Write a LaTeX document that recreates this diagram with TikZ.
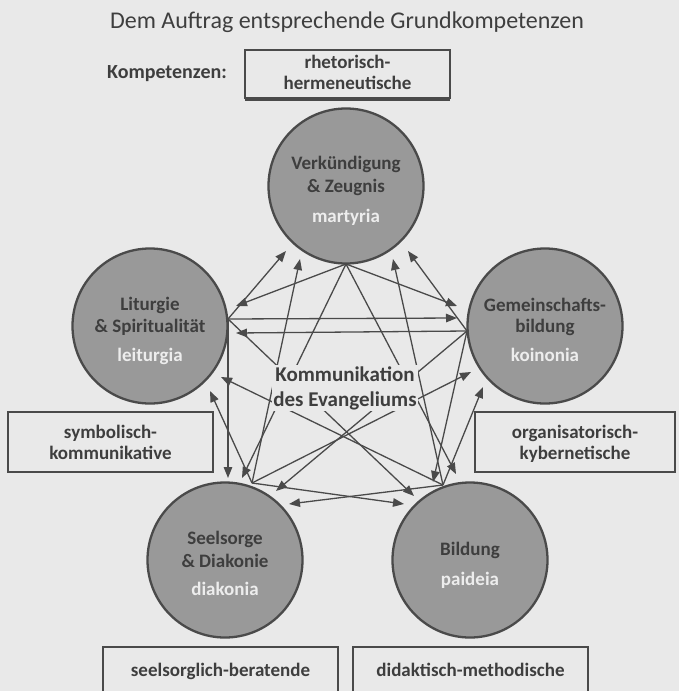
\documentclass[tikz,border=0pt]{standalone}
\usepackage{fontspec}
\setmainfont{Carlito}
\usetikzlibrary{arrows.meta}
\definecolor{bg}{HTML}{E9E9E9}
\definecolor{circfill}{HTML}{999999}
\definecolor{edge}{HTML}{4A4A4A}
\definecolor{ink}{HTML}{3E3E3E}
\definecolor{latin}{HTML}{EDEDED}
\begin{document}
\begin{tikzpicture}[x=1pt,y=-1pt,
  circ/.style={circle,draw=edge,line width=2.3pt,fill=circfill,minimum size=155pt,inner sep=0pt},
  ctext/.style={text=ink,font=\fontsize{19}{21}\selectfont\bfseries,inner sep=0pt,anchor=base},
  ltext/.style={text=latin,font=\fontsize{19}{21}\selectfont\bfseries,inner sep=0pt,anchor=base},
  kbox/.style={draw=edge,line width=2.3pt,inner sep=0pt},
  btext/.style={text=ink,font=\fontsize{19}{21}\selectfont\bfseries,inner sep=0pt,anchor=base},
  arr/.style={draw=edge,line width=1.3pt,-{Triangle[length=11pt,width=8.5pt]}}]
\fill[bg] (0,0) rectangle (679,691);
\useasboundingbox (0,0) rectangle (679,691);

% title
\node[text=ink,font=\fontsize{24}{26}\selectfont,anchor=base,inner sep=0pt] (title) at (347,28) {Dem Auftrag entsprechende Grundkompetenzen};
\node[btext,font=\fontsize{20}{22}\selectfont\bfseries] (komp) at (167,78) {Kompetenzen:};

% boxes
\node[kbox,minimum width=205pt,minimum height=48pt] (bR) at (347.5,74) {};
\draw[edge,line width=3.5pt] ([xshift=1pt]bR.south west) -- ([xshift=-1pt]bR.south east);
\node[btext] (bR1) at (347.5,68) {rhetorisch-};
\node[btext] (bR2) at (347.5,89) {hermeneutische};

\node[kbox,minimum width=205pt,minimum height=60pt] (bS) at (110.5,442) {};
\node[btext] (bS1) at (110.5,438) {symbolisch-};
\node[btext] (bS2) at (110.5,459) {kommunikative};

\node[kbox,minimum width=200pt,minimum height=60pt] (bO) at (575,442) {};
\node[btext] (bO1) at (575,438) {organisatorisch-};
\node[btext] (bO2) at (575,459) {kybernetische};

\node[kbox,minimum width=235pt,minimum height=46pt] (bSe) at (220.5,670) {};
\node[btext] (bSe1) at (220.5,676) {seelsorglich-beratende};

\node[kbox,minimum width=235pt,minimum height=46pt] (bD) at (470.5,670) {};
\node[btext] (bD1) at (470.5,676) {didaktisch-methodische};

% circles
\node[circ] (V) at (346,186) {};
\node[circ] (L) at (150,326) {};
\node[circ] (G) at (545,326) {};
\node[circ] (S) at (225,560) {};
\node[circ] (B) at (470,560) {};

\node[ctext] (V1) at (346,169) {Verkündigung};
\node[ctext] (V2) at (346,192) {\& Zeugnis};
\node[ltext] (V3) at (346,222) {martyria};

\node[ctext] (L1) at (150,310) {Liturgie};
\node[ctext] (L2) at (150,332) {\& Spiritualität};
\node[ltext] (L3) at (150,361) {leiturgia};

\node[ctext] (G1) at (545,311) {Gemeinschafts-};
\node[ctext] (G2) at (545,332) {bildung};
\node[ltext] (G3) at (545,361) {koinonia};

\node[ctext] (S1) at (225,544) {Seelsorge};
\node[ctext] (S2) at (225,567) {\& Diakonie};
\node[ltext] (S3) at (225,595) {diakonia};

\node[ctext] (B1) at (470,555) {Bildung};
\node[ltext] (B2) at (470,585) {paideia};

% anchor points
\coordinate (aV) at (346,264);
\coordinate (aL) at (228,319);
\coordinate (aG) at (467,331);
\coordinate (aS) at (252,483);
\coordinate (aB) at (443,485);
% arrow ends
\coordinate (hLV) at (286,251);
\coordinate (hSV) at (300,259);
\coordinate (hBV) at (393,259);
\coordinate (hGV) at (408,251);
\coordinate (hVL) at (236,306);
\coordinate (hGL) at (236,333);
\coordinate (hBL) at (221,377);
\coordinate (hSL) at (210,391);
\coordinate (hVG) at (457,306);
\coordinate (hLG) at (457,318);
\coordinate (hSG) at (471,372);
\coordinate (hBG) at (483,387);
\coordinate (hLS) at (228,478);
\coordinate (hVS) at (242,478);
\coordinate (hGS) at (276,491);
\coordinate (hBS) at (289,504);
\coordinate (hGB) at (433,482);
\coordinate (hVB) at (456,474);
\coordinate (hLB) at (414,496);
\coordinate (hSB) at (404,504);

\draw[arr] (aL) -- (hLV);
\draw[arr] (aS) -- (hSV);
\draw[arr] (aB) -- (hBV);
\draw[arr] (aG) -- (hGV);
\draw[arr] (aV) -- (hVL);
\draw[arr] (aG) -- (hGL);
\draw[arr] (aB) -- (hBL);
\draw[arr] (aS) -- (hSL);
\draw[arr] (aV) -- (hVG);
\draw[arr] (aL) -- (hLG);
\draw[arr] (aS) -- (hSG);
\draw[arr] (aB) -- (hBG);
\draw[arr] (aL) -- (hLS);
\draw[arr] (aV) -- (hVS);
\draw[arr] (aG) -- (hGS);
\draw[arr] (aB) -- (hBS);
\draw[arr] (aG) -- (hGB);
\draw[arr] (aV) -- (hVB);
\draw[arr] (aL) -- (hLB);
\draw[arr] (aS) -- (hSB);

% centre label
\node[fill=bg,text=ink,font=\fontsize{21}{25}\selectfont\bfseries,align=center,inner sep=1pt] (K) at (345,388) {Kommunikation\\des Evangeliums};
\end{tikzpicture}
\end{document}
